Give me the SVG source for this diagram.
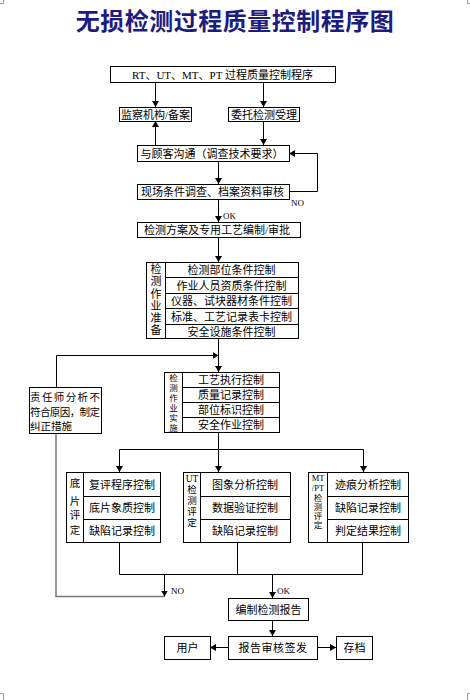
<svg xmlns="http://www.w3.org/2000/svg" width="470" height="700" viewBox="0 0 470 700">
<defs>
<marker id="ah" markerUnits="userSpaceOnUse" markerWidth="7" markerHeight="7" refX="6" refY="3.5" orient="auto">
<path d="M0,0 L6,3.5 L0,7 Z" fill="#000"/>
</marker>
<style>
.b{fill:#fff;stroke:#000;stroke-width:1}
.t{font-family:"Liberation Serif","Noto Sans CJK SC",serif;font-size:11px;fill:#000;text-anchor:middle}
.tl{font-family:"Liberation Serif","Noto Sans CJK SC",serif;font-size:10.5px;fill:#000}
.v{font-family:"Liberation Serif","Noto Sans CJK SC",serif;fill:#000;text-anchor:middle}
.c{fill:none;stroke:#000;stroke-width:1}
.a{fill:none;stroke:#000;stroke-width:1;marker-end:url(#ah)}
.lab{font-family:"Liberation Serif",serif;font-size:9px;fill:#000}
.pm{fill:none;stroke:#999;stroke-width:1}
</style>
</defs>
<rect width="470" height="700" fill="#fff"/>
<path class="pm" d="M0,3.5H3.5V0M467.5,0V3.5H470M0,693.5H3.5V700M470,693.5H467.5V700"/>
<text x="235" y="30" font-family="'Noto Sans CJK SC',sans-serif" font-size="24" font-weight="700" fill="#1c1c80" text-anchor="middle" letter-spacing="0.5">无损检测过程质量控制程序图</text>

<g id="connectors">
<path class="a" d="M155.5,82V107"/>
<path class="a" d="M263.5,82V107"/>
<path class="a" d="M155.5,145V121"/>
<path class="a" d="M263.5,121V145"/>
<path class="a" d="M218.5,161V184"/>
<path class="a" d="M289,191.5H317.5V153.5H289"/>
<path class="a" d="M218.5,199V222"/>
<path class="a" d="M218.5,237V262"/>
<path class="a" d="M218.5,338V372"/>
<path fill="none" stroke="#777" stroke-width="1.5" d="M56,433V596.5H164.5"/>
<path class="a" d="M56.5,387V355.5H218.5"/>
<path class="c" d="M218.5,432V449.5M119.5,449.5H363.5"/>
<path class="a" d="M119.5,449.5V472"/>
<path class="a" d="M218.5,449.5V472"/>
<path class="a" d="M363.5,449.5V472"/>
<path class="c" d="M119.5,542V574.5H362.5V542M237.5,542V574.5"/>
<path class="a" d="M164.5,574.5V596.5"/>
<path class="a" d="M272.5,574.5V598"/>
<path class="a" d="M272.5,620V636"/>
<path class="a" d="M228,647.5H210"/>
<path class="a" d="M317,647.5H336"/>
<text class="lab" x="291" y="206">NO</text>
<text class="lab" x="223" y="219">OK</text>
<text class="lab" x="171" y="594">NO</text>
<text class="lab" x="277" y="594">OK</text>
</g>

<g id="n-top"><rect class="b" x="110.5" y="66.5" width="225" height="16"/><text class="t" x="222.5" y="78.5">RT、UT、MT、PT 过程质量控制程序</text></g>
<g id="n-jc"><rect class="b" x="119.5" y="107.5" width="72" height="14"/><text class="t" x="155.5" y="118.5">监察机构/备案</text></g>
<g id="n-wt"><rect class="b" x="228.5" y="107.5" width="71" height="14"/><text class="t" x="264" y="118.5">委托检测受理</text></g>
<g id="n-gk"><rect class="b" x="137.5" y="145.5" width="152" height="16"/><text class="t" x="212" y="157.5">与顾客沟通（调查技术要求）</text></g>
<g id="n-xc"><rect class="b" x="137.5" y="184.5" width="152" height="15"/><text class="t" x="212.5" y="196">现场条件调查、档案资料审核</text></g>
<g id="n-fa"><rect class="b" x="137.5" y="222.5" width="163" height="15"/><text class="t" x="217" y="234">检测方案及专用工艺编制/审批</text></g>

<g id="n-prep">
<rect class="b" x="146.5" y="262.5" width="152" height="76"/>
<path class="c" d="M165.5,262.5V338.5M165.5,277.5H298.5M165.5,293.5H298.5M165.5,308.5H298.5M165.5,324.5H298.5"/>
<g class="v" font-size="11"><text x="156" y="273">检</text><text x="156" y="285">测</text><text x="156" y="298">作</text><text x="156" y="310">业</text><text x="156" y="322">准</text><text x="156" y="334">备</text></g>
<text class="t" x="231.5" y="274">检测部位条件控制</text>
<text class="t" x="231.5" y="289.5">作业人员资质条件控制</text>
<text class="t" x="231.5" y="305">仪器、试块器材条件控制</text>
<text class="t" x="231.5" y="320.5">标准、工艺记录表卡控制</text>
<text class="t" x="231.5" y="335.5">安全设施条件控制</text>
</g>

<g id="n-zrs">
<rect class="b" x="29.5" y="387.5" width="72" height="46"/>
<text class="tl" x="30" y="401" textLength="70" lengthAdjust="spacing">责任师分析不</text>
<text class="tl" x="30" y="416" textLength="70" lengthAdjust="spacing">符合原因，制定</text>
<text class="tl" x="30" y="430">纠正措施</text>
</g>

<g id="n-exec">
<rect class="b" x="164.5" y="372.5" width="115" height="60"/>
<path class="c" d="M182.5,372.5V432.5M182.5,387.5H279.5M182.5,402.5H279.5M182.5,417.5H279.5"/>
<g class="v" font-size="8.5"><text x="173.5" y="381">检</text><text x="173.5" y="391">测</text><text x="173.5" y="401">作</text><text x="173.5" y="411">业</text><text x="173.5" y="421">实</text><text x="173.5" y="431">施</text></g>
<text class="t" x="231" y="384">工艺执行控制</text>
<text class="t" x="231" y="399">质量记录控制</text>
<text class="t" x="231" y="414">部位标识控制</text>
<text class="t" x="231" y="429">安全作业控制</text>
</g>

<g id="n-dp">
<rect class="b" x="66.5" y="472.5" width="94" height="70"/>
<path class="c" d="M83.5,472.5V542.5M83.5,496.5H160.5M83.5,519.5H160.5"/>
<g class="v" font-size="10.5"><text x="75" y="487">底</text><text x="75" y="505">片</text><text x="75" y="519">评</text><text x="75" y="534">定</text></g>
<text class="t" x="122" y="488.5">复评程序控制</text>
<text class="t" x="122" y="511.5">底片象质控制</text>
<text class="t" x="122" y="534.5">缺陷记录控制</text>
</g>

<g id="n-ut">
<rect class="b" x="183.5" y="472.5" width="107" height="70"/>
<path class="c" d="M200.5,472.5V542.5M200.5,496.5H290.5M200.5,519.5H290.5"/>
<g class="v" font-size="9.5"><text x="192" y="482">UT</text><text x="192" y="493">检</text><text x="192" y="504">测</text><text x="192" y="515">评</text><text x="192" y="526">定</text></g>
<text class="t" x="245" y="488.5">图象分析控制</text>
<text class="t" x="245" y="511.5">数据验证控制</text>
<text class="t" x="245" y="534.5">缺陷记录控制</text>
</g>

<g id="n-mt">
<rect class="b" x="308.5" y="472.5" width="100" height="70"/>
<path class="c" d="M327.5,472.5V542.5M327.5,496.5H408.5M327.5,519.5H408.5"/>
<g class="v" font-size="8.5"><text x="318" y="481">MT</text><text x="318" y="491">/PT</text><text x="318" y="501">检</text><text x="318" y="510">测</text><text x="318" y="519">评</text><text x="318" y="528">定</text></g>
<text class="t" x="368" y="488.5">迹痕分析控制</text>
<text class="t" x="368" y="511.5">缺陷记录控制</text>
<text class="t" x="368" y="534.5">判定结果控制</text>
</g>

<g id="n-bg"><rect class="b" x="228.5" y="598.5" width="80" height="22"/><text class="t" x="268.5" y="613.5">编制检测报告</text></g>
<g id="n-sh"><rect class="b" x="228.5" y="636.5" width="89" height="23"/><text class="t" x="273" y="652" letter-spacing="0.5">报告审核签发</text></g>
<g id="n-yh"><rect class="b" x="164.5" y="636.5" width="46" height="23"/><text class="t" x="187.5" y="652">用户</text></g>
<g id="n-cd"><rect class="b" x="336.5" y="636.5" width="36" height="23"/><text class="t" x="354.5" y="652">存档</text></g>
</svg>
